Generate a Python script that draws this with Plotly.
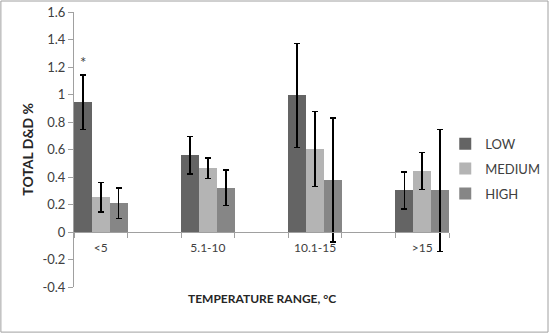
import plotly.graph_objects as go

categories = ["<5", "5.1-10", "10.1-15", ">15"]
series_names = ["LOW", "MEDIUM", "HIGH"]
low_vals = [0.945, 0.558, 0.994, 0.303]
low_err = [0.198, 0.135, 0.378, 0.134]
med_vals = [0.252, 0.465, 0.604, 0.444]
med_err = [0.107, 0.075, 0.274, 0.136]
high_vals = [0.209, 0.322, 0.378, 0.303]
high_err = [0.112, 0.128, 0.452, 0.443]
colors = ["#646464", "#b4b4b4", "#868686"]
y_tickvals = [-0.4, -0.2, 0, 0.2, 0.4, 0.6, 0.8, 1, 1.2, 1.4, 1.6]
y_ticktext = ["-0.4", "-0.2", "0", "0.2", "0.4", "0.6", "0.8", "1", "1.2", "1.4", "1.6"]

# categories separated by empty spacer categories
x_cats = []
for i, c in enumerate(categories):
    x_cats.append(c)
    if i < len(categories) - 1:
        x_cats.append(" " * (i + 1))


def expand(vals):
    out = []
    for i, v in enumerate(vals):
        out.append(v)
        if i < len(vals) - 1:
            out.append(None)
    return out


FONT = "Lato"
fig = go.Figure()
for name, vals, errs, col in zip(series_names, [low_vals, med_vals, high_vals],
                                 [low_err, med_err, high_err], colors):
    fig.add_trace(go.Bar(
        x=x_cats, y=expand(vals), name=name, marker=dict(color=col, line=dict(width=0)),
        legendgroup=name,
        error_y=dict(type="data", array=expand(errs), visible=True, color="black",
                     thickness=1.5, width=3),
    ))

fig.update_layout(
    width=550, height=334,
    margin=dict(l=74, r=101, t=12, b=47, autoexpand=False),
    paper_bgcolor="white", plot_bgcolor="white",
    barmode="group", bargap=0, bargroupgap=0,
    font=dict(family=FONT, size=12, color="#404040"),
    showlegend=True,
    legend=dict(x=0.99, y=0.43, xanchor="left", yanchor="middle",
                font=dict(family=FONT, size=13, color="#404040"),
                tracegroupgap=5, itemwidth=30, bgcolor="rgba(0,0,0,0)"),
    xaxis=dict(type="category", categoryorder="array", categoryarray=x_cats,
               range=[-0.5, 6.5], anchor="free", position=0.2, automargin=False,
               showline=True, linecolor="#a0a0a0", linewidth=1, tickangle=0,
               ticks="outside", ticklen=5, tickcolor="#a0a0a0", tickson="boundaries",
               ticklabelstandoff=5,
               showgrid=False, zeroline=False,
               tickfont=dict(family=FONT, size=12, color="#404040")),
    yaxis=dict(range=[-0.4, 1.6], tickvals=y_tickvals, ticktext=y_ticktext,
               automargin=False,
               showline=True, linecolor="#a0a0a0", linewidth=1,
               ticks="outside", ticklen=5, tickcolor="#a0a0a0",
               showgrid=False, zeroline=False,
               tickfont=dict(family=FONT, size=13, color="#404040")),
    shapes=[dict(type="rect", xref="paper", yref="paper",
                 x0=-0.195, x1=1.264, y0=-0.164, y1=1.040,
                 line=dict(color="#a0a0a0", width=1))],
    annotations=[
        dict(text="<b>TEMPERATURE RANGE, °C</b>", xref="paper", yref="paper",
             x=0.5, y=-0.04, xanchor="center", yanchor="middle", showarrow=False,
             font=dict(family=FONT, size=12, color="#262626")),
        dict(text="<b>TOTAL D&D %</b>", xref="paper", yref="paper",
             x=-0.125, y=0.5, xanchor="center", yanchor="middle", textangle=-90,
             showarrow=False, font=dict(family=FONT, size=14, color="#262626")),
        dict(text="*", x=0, y=1.236, xref="x", yref="y", xshift=-18,
             showarrow=False, font=dict(family=FONT, size=15, color="#404040")),
    ],
)

fig.write_html("out.html", config={"displayModeBar": False},
               post_script="document.body.style.margin='0';")
